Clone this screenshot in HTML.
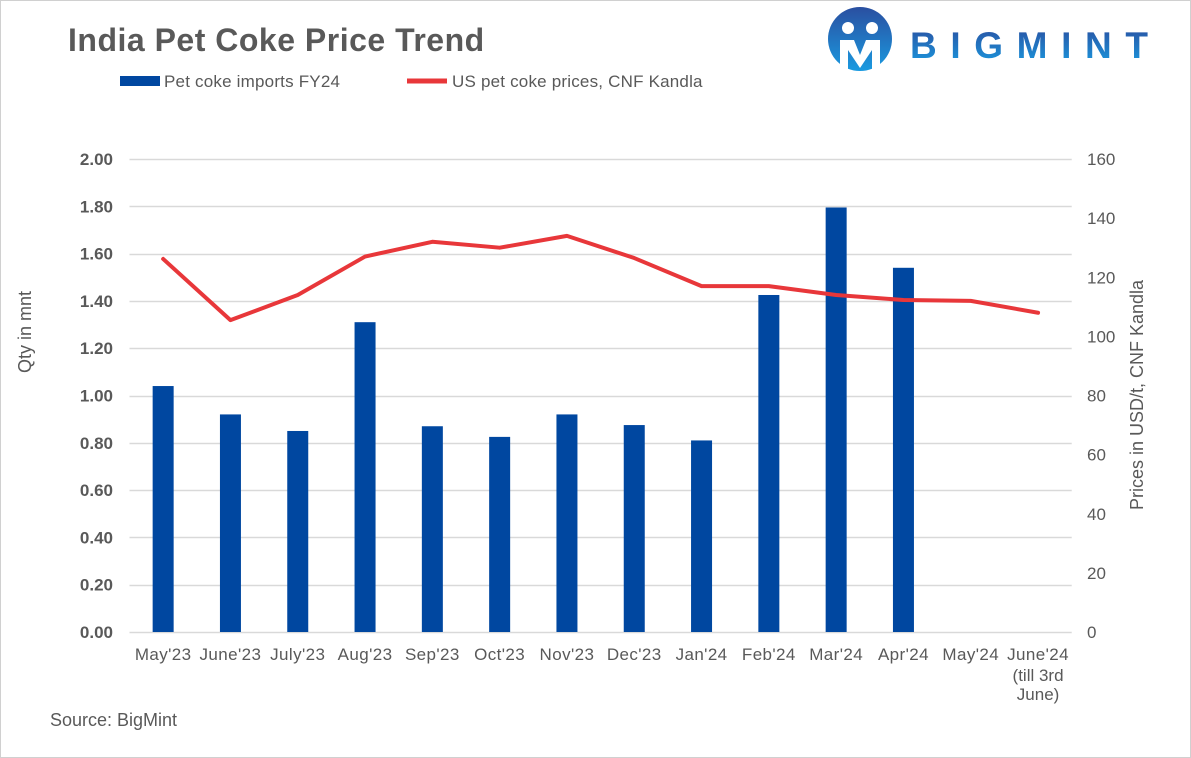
<!DOCTYPE html>
<html><head><meta charset="utf-8"><style>
body{margin:0;width:1191px;height:758px;background:#fff;font-family:"Liberation Sans",sans-serif;overflow:hidden}
#frame{position:absolute;left:0;top:0;width:1189px;height:756px;border:1px solid #d0d0d0}
</style></head><body>
<div id="frame"></div>
<svg id="chart" width="1191" height="758" style="position:absolute;left:0;top:0">
<defs><linearGradient id="lg" x1="0" y1="0" x2="0" y2="1"><stop offset="0" stop-color="#2a4fa0"/><stop offset="1" stop-color="#1a9ae0"/></linearGradient></defs>
<text x="68" y="51" font-size="32" font-weight="bold" fill="#595959" letter-spacing="0.5">India Pet Coke Price Trend</text>
<g>
<circle cx="860" cy="39" r="32" fill="url(#lg)"/>
<circle cx="848" cy="28" r="6" fill="#fff"/><circle cx="872" cy="28" r="6" fill="#fff"/>
<path d="M840 40 h14 l6 15 l6 -15 h14 v30 h-8 v-20 l-12 18 l-12 -18 v20 h-8z" fill="#fff"/>
<text x="910" y="58" font-size="37" font-weight="bold" fill="url(#lg)" letter-spacing="14" textLength="252">BIGMINT</text>
</g>
<g>
<rect x="120" y="76" width="40" height="10" fill="#0047a0"/>
<text x="164" y="87" font-size="17" fill="#595959" letter-spacing="0.2">Pet coke imports FY24</text>
<line x1="407" y1="81" x2="447" y2="81" stroke="#e8373a" stroke-width="5"/>
<text x="452" y="87" font-size="17" fill="#595959" letter-spacing="0.2">US pet coke prices, CNF Kandla</text>
</g>
<text transform="translate(31,332) rotate(-90)" text-anchor="middle" font-size="18" fill="#595959">Qty in mnt</text>
<text transform="translate(1143,395) rotate(-90)" text-anchor="middle" font-size="18" fill="#595959">Prices in USD/t, CNF Kandla</text>
<text x="50" y="726" font-size="18" fill="#595959">Source: BigMint</text>
<g id="plot"></g>
</svg>
<script>
const categories=["May'23","June'23","July'23","Aug'23","Sep'23","Oct'23","Nov'23","Dec'23","Jan'24","Feb'24","Mar'24","Apr'24","May'24","June'24"];
const imports=[1.04,0.92,0.85,1.31,0.87,0.825,0.92,0.875,0.81,1.425,1.795,1.54,null,null];
const prices=[126.2,105.5,114,127,132,130,134,126.5,117,117,114,112.3,112,108];
const leftTicks=["0.00","0.20","0.40","0.60","0.80","1.00","1.20","1.40","1.60","1.80","2.00"];
const rightTicks=[0,20,40,60,80,100,120,140,160];
const NS="http://www.w3.org/2000/svg";
const g=document.getElementById('plot');
const x0=129.5,step=67.3,yb=632,yt=159;
const xC=i=>x0+step*(i+0.5);
const yL=v=>yb-(v/2)*(yb-yt);
const yR=v=>yb-(v/160)*(yb-yt);
function el(t,a){const e=document.createElementNS(NS,t);for(const k in a)e.setAttribute(k,a[k]);g.appendChild(e);return e;}
leftTicks.forEach(t=>{const l=el('line',{x1:x0,x2:x0+step*14,y1:Math.round(yL(+t))+0.5,y2:Math.round(yL(+t))+0.5,stroke:'#d9d9d9','stroke-width':1.5});


const e=el('text',{x:113,y:yL(+t)+6,'text-anchor':'end','font-size':17,'font-weight':'bold',fill:'#595959'});e.textContent=t;

});
rightTicks.forEach(t=>{const e=el('text',{x:1087,y:yR(t)+6,'font-size':17,fill:'#595959'});e.textContent=t;

});
imports.forEach((v,i)=>{if(v==null)return;const r=el('rect',{x:xC(i)-10.5,y:yL(v),width:21,height:yb-yL(v),fill:'#0047a0'});

});
const p=el('polyline',{points:prices.map((v,i)=>xC(i)+','+yR(v)).join(' '),fill:'none',stroke:'#e8373a','stroke-width':4,'stroke-linejoin':'round','stroke-linecap':'round'});


categories.forEach((c,i)=>{const t=el('text',{x:xC(i),y:660,'text-anchor':'middle','font-size':17,'letter-spacing':0.4,fill:'#595959'});t.textContent=c;

});
["(till 3rd","June)"].forEach((s,k)=>{const t=el('text',{x:xC(13),y:681+k*19,'text-anchor':'middle','font-size':17,fill:'#595959'});t.textContent=s;

});
</script>
</body></html>
